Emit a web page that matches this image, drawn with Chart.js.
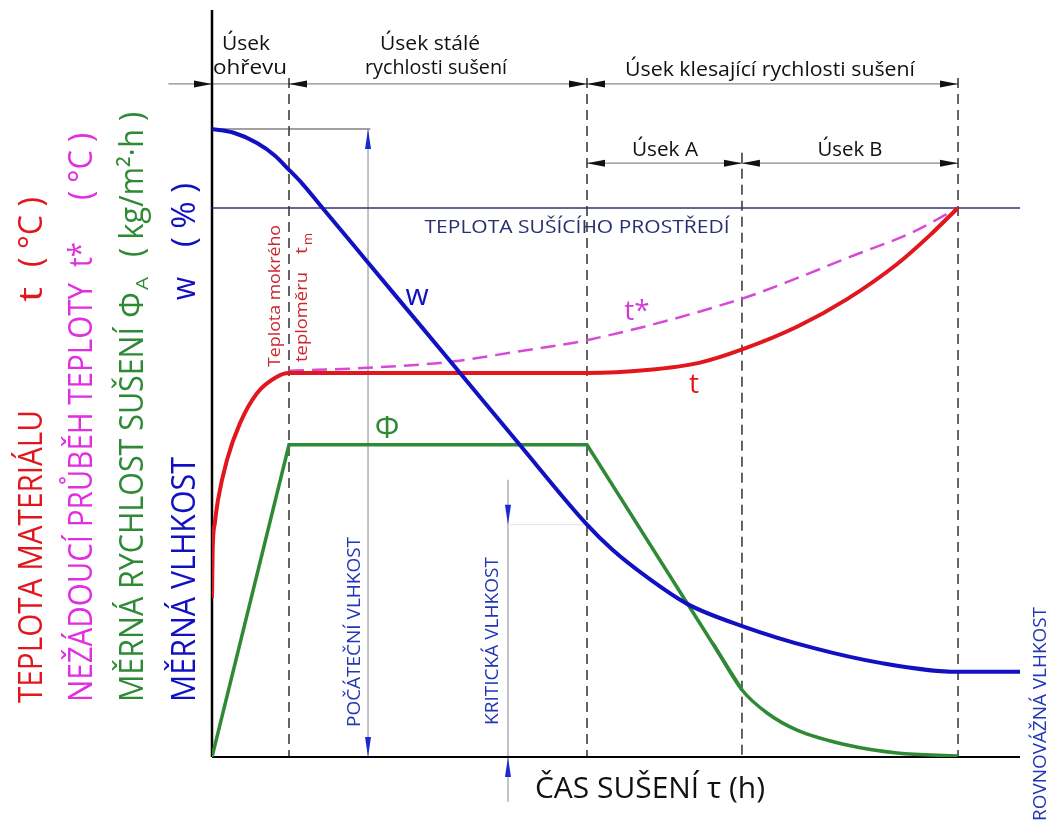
<!DOCTYPE html>
<html>
<head>
<meta charset="utf-8">
<script src="https://cdn.jsdelivr.net/npm/chart.js@4.4.1/dist/chart.umd.min.js"></script>
<style>
    body { margin: 0; background: #fff; }
</style>
</head>
<body>
<canvas id="grafSuseni" width="1051" height="823"></canvas>
<script>
const casW = [0, 2.6, 5.57, 7.8, 9.53, 11.14, 13.6, 19.3, 30.7, 37.7, 46.41, 49.6, 53.8, 58.8, 65.7, 74.4, 82.7, 92.3, 100];
const vlhkostW = [84.07, 83.6, 82.2, 80.5, 78.6, 76.8, 73.6, 66.2, 51.4, 42.3, 31.1, 27.7, 24.1, 20.5, 17.5, 14.6, 12.6, 11.4, 11.4];

const casT = [0, 0.08, 0.35, 0.74, 1.86, 3.47, 5.57, 8.04, 9.53, 46.41, 53.84, 60.4, 65.7, 72.4, 78.6, 84.8, 88.9, 92.3];
const teplotaT = [21.3, 27.7, 31.3, 34.4, 39.8, 44.7, 48.7, 50.9, 51.4, 51.4, 51.8, 52.8, 54.6, 57.6, 61.3, 66.0, 69.9, 73.5];

const casTh = [9.53, 19.2, 29.5, 37.3, 46.4, 65.7, 72.4, 78.6, 86.8, 92.3];
const teplotaTh = [51.7, 52.1, 52.9, 54.2, 55.8, 61.4, 64.1, 66.8, 70.3, 73.5];

const casPhiA = [0, 9.53, 46.41, 65.6];
const rychlostPhiA = [0, 41.8, 41.8, 8.97];
const casPhiB = [62.0, 65.6, 68.7, 72.4, 78.6, 84.8, 92.3];
const rychlostPhiB = [15.2, 8.97, 5.89, 3.61, 1.61, 0.54, 0.13];

const prostrediX = [0, 100];
const prostrediY = [73.5, 73.5];

// Limites de los tramos (usek) y niveles de vlhkost
const hraniceUseku = [0, 9.53, 46.41, 65.59, 92.33];
const pocatecniX = 19.31;
const kritickaX = 36.63;

const modra = '#1111c2';
const cervena = '#e2161d';
const zelena = '#2f8a36';
const fialova = '#d64ad6';

function puntos(xs, ys) {
    return xs.map((v, i) => ({ x: v, y: ys[i] }));
}

function texto(ctx, str, x, y, o) {
    ctx.save();
    ctx.font = `${o.size}px "Open Sans", sans-serif`;
    ctx.fillStyle = o.color || '#000';
    ctx.textBaseline = 'alphabetic';
    ctx.textAlign = 'left';
    const w = ctx.measureText(str).width;
    const sx = o.ancho ? o.ancho / w : 1;
    ctx.translate(x, y);
    if (o.rot) ctx.rotate(-Math.PI / 2);
    ctx.scale(sx, 1);
    ctx.fillText(str, o.center ? -w / 2 : 0, 0);
    ctx.restore();
}

function flecha(ctx, tx, ty, dx, dy, len, half, color) {
    ctx.save();
    ctx.fillStyle = color;
    ctx.beginPath();
    ctx.moveTo(tx, ty);
    ctx.lineTo(tx - dx * len - dy * half, ty - dy * len + dx * half);
    ctx.lineTo(tx - dx * len + dy * half, ty - dy * len - dx * half);
    ctx.closePath();
    ctx.fill();
    ctx.restore();
}

function linea(ctx, x1, y1, x2, y2, color, width, dash) {
    ctx.save();
    ctx.strokeStyle = color;
    ctx.lineWidth = width;
    ctx.setLineDash(dash || []);
    ctx.beginPath();
    ctx.moveTo(x1, y1);
    ctx.lineTo(x2, y2);
    ctx.stroke();
    ctx.restore();
}

// Textos verticales del eje y (bottom -> top)
const etiquetasOsy = [
    { t: 'TEPLOTA MATERIÁLU', c: cervena, x: 42, y0: 703, y1: 410, s: 32 },
    { t: 't', c: cervena, x: 42, y0: 302, y1: 287, s: 32 },
    { t: '( °C )', c: cervena, x: 42, y0: 267, y1: 197, s: 32 },
    { t: 'NEŽÁDOUCÍ PRŮBĚH TEPLOTY', c: '#e02ee0', x: 92, y0: 702, y1: 283, s: 32 },
    { t: 't*', c: '#e02ee0', x: 92, y0: 267, y1: 242, s: 32 },
    { t: '( °C )', c: '#e02ee0', x: 92, y0: 200, y1: 133, s: 32 },
    { t: 'MĚRNÁ RYCHLOST SUŠENÍ', c: zelena, x: 143, y0: 702, y1: 327, s: 32 },
    { t: 'Φ', c: zelena, x: 143, y0: 318, y1: 292, s: 32 },
    { t: 'A', c: zelena, x: 148, y0: 290, y1: 277, s: 17 },
    { t: '( kg/m²·h )', c: zelena, x: 143, y0: 257, y1: 112, s: 32 },
    { t: 'MĚRNÁ VLHKOST', c: modra, x: 195, y0: 702, y1: 457, s: 32 },
    { t: 'w', c: modra, x: 195, y0: 300, y1: 277, s: 32 },
    { t: '( % )', c: modra, x: 195, y0: 247, y1: 183, s: 32 },
    { t: 'Teplota mokrého', c: '#c8282e', x: 280, y0: 367, y1: 225, s: 17 },
    { t: 'teploměru', c: '#c8282e', x: 307, y0: 362, y1: 272, s: 17 },
    { t: 't', c: '#c8282e', x: 307, y0: 254, y1: 247, s: 17 },
    { t: 'm', c: '#c8282e', x: 312, y0: 245, y1: 233, s: 13 },
    { t: 'POČÁTEČNÍ VLHKOST', c: '#2336b5', x: 360, y0: 727, y1: 537, s: 19 },
    { t: 'KRITICKÁ VLHKOST', c: '#2336b5', x: 498, y0: 725, y1: 557, s: 19 },
    { t: 'ROVNOVÁŽNÁ VLHKOST', c: '#2336b5', x: 1046, y0: 821, y1: 607, s: 19 }
];

// Textos horizontales (centro x, baseline y)
const etiquetasVodorovne = [
    { t: 'Úsek', x: 246, y: 50, w: 48, s: 20, c: '#111' },
    { t: 'ohřevu', x: 250, y: 74, w: 74, s: 20, c: '#111' },
    { t: 'Úsek stálé', x: 430, y: 50, w: 100, s: 20, c: '#111' },
    { t: 'rychlosti sušení', x: 436, y: 74, w: 142, s: 20, c: '#111' },
    { t: 'Úsek klesající rychlosti sušení', x: 770, y: 76, w: 290, s: 20, c: '#111' },
    { t: 'Úsek A', x: 665, y: 156, w: 66, s: 20, c: '#111' },
    { t: 'Úsek B', x: 850, y: 156, w: 65, s: 20, c: '#111' },
    { t: 'TEPLOTA SUŠÍCÍHO PROSTŘEDÍ', x: 577, y: 233, w: 305, s: 18, c: '#2a2f72' },
    { t: 'ČAS SUŠENÍ τ (h)', x: 650, y: 798, w: 230, s: 30, c: '#111' },
    { t: 'w', x: 417, y: 305, s: 30, c: modra },
    { t: 't*', x: 637, y: 320, s: 28, c: '#d23cd2' },
    { t: 't', x: 694, y: 393, s: 28, c: cervena },
    { t: 'Φ', x: 387, y: 438, s: 31, c: zelena }
];

const anotaciones = {
    id: 'anotaciones',
    beforeDatasetsDraw(chart) {
        const { ctx, chartArea } = chart;
        const px = v => chart.scales.x.getPixelForValue(v);
        const py = v => chart.scales.y.getPixelForValue(v);
        const [u0, u1, u2, u3, u4] = hraniceUseku;

        // Lineas de cota
        const r1 = py(90.1), r2 = py(79.5);
        linea(ctx, px(-5.4), r1, px(u4), r1, '#8a8a8a', 1.2);
        linea(ctx, px(u2), r2, px(u4), r2, '#8a8a8a', 1.2);

        // Verticales discontinuas
        [u1, u2, u4].forEach(u => linea(ctx, px(u), py(90.9), px(u), chartArea.bottom, '#222', 1.4, [10, 6]));
        linea(ctx, px(u3), py(80.9), px(u3), chartArea.bottom, '#222', 1.4, [10, 6]);

        // Flechas cotas
        const k = '#111';
        flecha(ctx, px(u0), r1, 1, 0, 18, 3.5, k);
        flecha(ctx, px(u1), r1, -1, 0, 18, 3.5, k);
        flecha(ctx, px(u2), r1, 1, 0, 18, 3.5, k);
        flecha(ctx, px(u2), r1, -1, 0, 18, 3.5, k);
        flecha(ctx, px(u4), r1, 1, 0, 18, 3.5, k);
        flecha(ctx, px(u2), r2, -1, 0, 18, 3.5, k);
        flecha(ctx, px(u3), r2, 1, 0, 18, 3.5, k);
        flecha(ctx, px(u3), r2, -1, 0, 18, 3.5, k);
        flecha(ctx, px(u4), r2, 1, 0, 18, 3.5, k);

        // Pocatecni vlhkost
        const wPoc = vlhkostW[0];
        linea(ctx, px(0), py(wPoc), px(19.6), py(wPoc), '#444', 1);
        linea(ctx, px(pocatecniX), py(wPoc), px(pocatecniX), py(0), '#9a9aa8', 1.2);
        flecha(ctx, px(pocatecniX), py(wPoc), 0, -1, 20, 3, '#1a2ad0');
        flecha(ctx, px(pocatecniX), py(0), 0, 1, 20, 3, '#1a2ad0');

        // Kriticka vlhkost
        const wKrit = vlhkostW[10];
        linea(ctx, px(kritickaX), py(37.1), px(kritickaX), py(-6.0), '#9a9aa8', 1.2);
        linea(ctx, px(kritickaX), py(wKrit), px(u2), py(wKrit), '#e4e4e4', 1);
        flecha(ctx, px(kritickaX), py(wKrit), 0, 1, 20, 3, '#1a2ad0');
        flecha(ctx, px(kritickaX), py(0), 0, -1, 20, 3, '#1a2ad0');

        // Ejes
        linea(ctx, chartArea.left, chartArea.top, chartArea.left, chartArea.bottom, '#000', 2.5);
        linea(ctx, chartArea.left, chartArea.bottom, chartArea.right, chartArea.bottom, '#000', 2.2);
    },
    afterDatasetsDraw(chart) {
        const { ctx } = chart;
        etiquetasOsy.forEach(e => {
            texto(ctx, e.t, e.x, e.y0, { size: e.s, color: e.c, ancho: e.y0 - e.y1, rot: true });
        });
        etiquetasVodorovne.forEach(e => {
            texto(ctx, e.t, e.x, e.y, { size: e.s, color: e.c, ancho: e.w, center: true });
        });
    }
};

// Dibujar chart
const ctx = document.getElementById('grafSuseni').getContext('2d');

new Chart(ctx, {
    type: 'line',
    data: {
        datasets: [
            {
                label: 'w',
                data: puntos(casW, vlhkostW),
                borderColor: modra,
                borderWidth: 4,
                cubicInterpolationMode: 'monotone',
                order: 1
            },
            {
                label: 't',
                data: puntos(casT, teplotaT),
                borderColor: cervena,
                borderWidth: 4,
                cubicInterpolationMode: 'monotone',
                order: 2
            },
            {
                label: 't*',
                data: puntos(casTh, teplotaTh),
                borderColor: fialova,
                borderWidth: 2.5,
                borderDash: [15, 8],
                cubicInterpolationMode: 'monotone',
                order: 3
            },
            {
                label: 'Φ',
                data: puntos(casPhiA, rychlostPhiA),
                borderColor: zelena,
                borderWidth: 3.5,
                tension: 0,
                order: 4
            },
            {
                label: 'Φ pokles',
                data: puntos(casPhiB, rychlostPhiB),
                borderColor: zelena,
                borderWidth: 3.5,
                cubicInterpolationMode: 'monotone',
                order: 4
            },
            {
                label: 'prostředí',
                data: puntos(prostrediX, prostrediY),
                borderColor: '#33336e',
                borderWidth: 1.5,
                tension: 0,
                order: 5
            }
        ]
    },
    options: {
        responsive: false,
        animation: false,
        devicePixelRatio: 1,
        layout: { padding: { left: 212, right: 31, top: 10, bottom: 66 } },
        elements: { point: { radius: 0 } },
        plugins: {
            legend: { display: false },
            tooltip: { enabled: false }
        },
        scales: {
            x: { type: 'linear', min: 0, max: 100, display: false },
            y: { min: 0, max: 100, display: false }
        }
    },
    plugins: [anotaciones]
});
</script>
</body>
</html>
